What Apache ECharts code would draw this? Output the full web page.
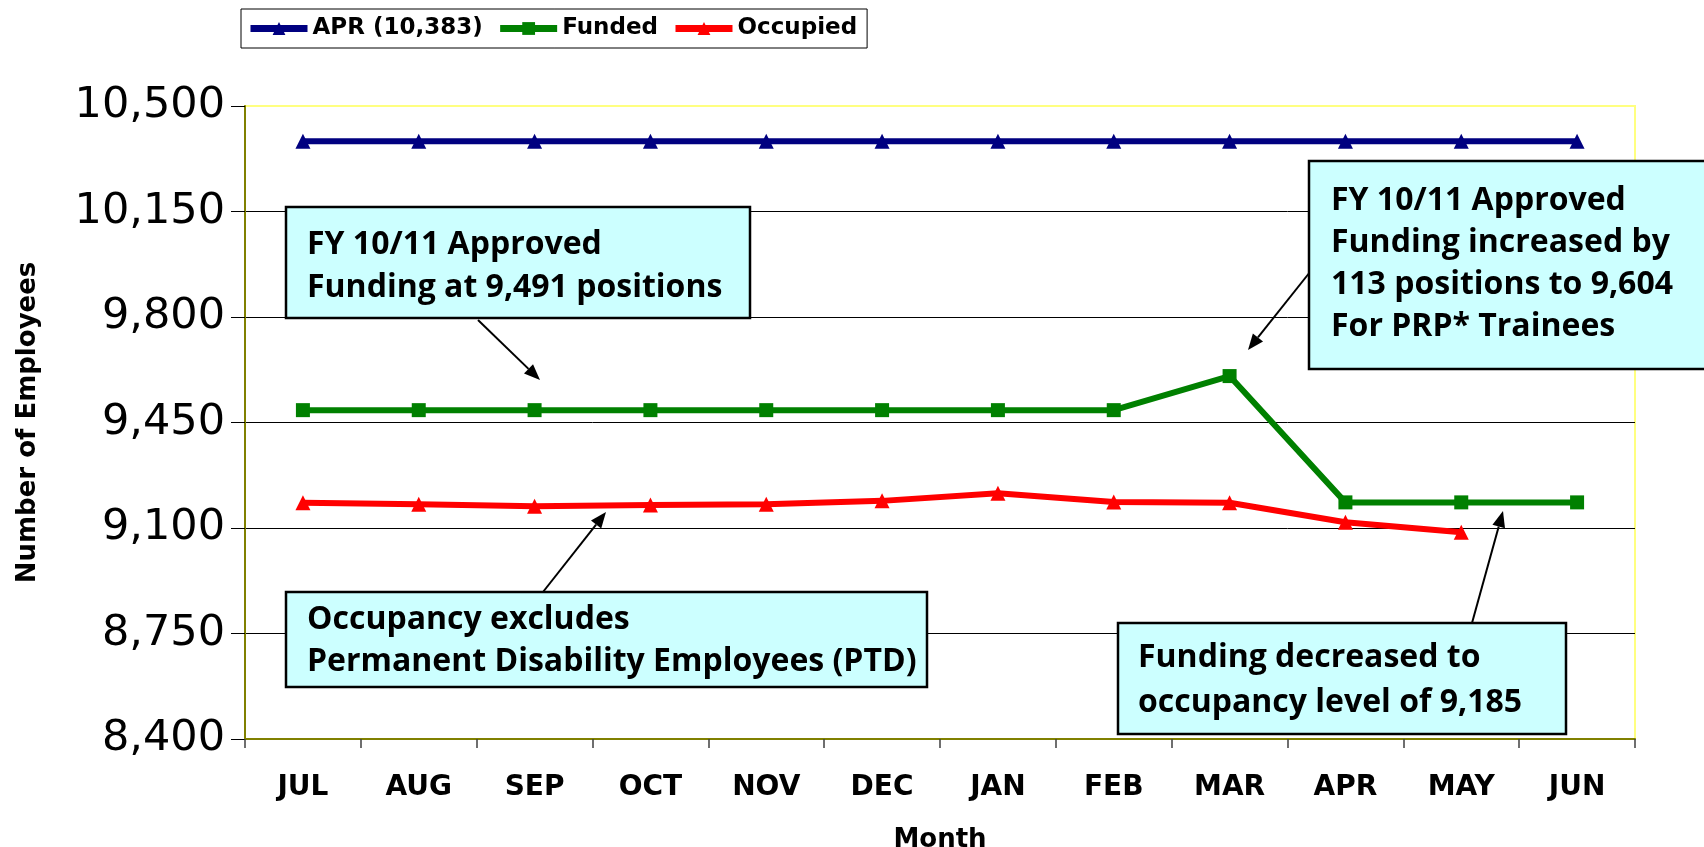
<!DOCTYPE html>
<html>
<head>
<meta charset="utf-8">
<script src="https://cdn.jsdelivr.net/npm/echarts@6/dist/echarts.min.js"></script>
<style>
  html, body { margin: 0; padding: 0; background: #fff; }
  #chart { width: 1704px; height: 847px; }
</style>
</head>
<body>
<div id="chart"></div>
<script>
// data
const months = ["JUL", "AUG", "SEP", "OCT", "NOV", "DEC", "JAN", "FEB", "MAR", "APR", "MAY", "JUN"];
const aprValues = [10383, 10383, 10383, 10383, 10383, 10383, 10383, 10383, 10383, 10383, 10383, 10383];
const fundedValues = [9491, 9491, 9491, 9491, 9491, 9491, 9491, 9491, 9604, 9185, 9185, 9185];
const occupiedValues = [9184, 9179, 9172, 9176, 9179, 9190, 9215, 9186, 9184, 9119, 9086, null];
const yMin = 8400;
const yMax = 10500;
const yStep = 350;

// callout boxes: c = centre of first text line, lh = line height
const notes = [
  { x: 286, y: 207, w: 464, h: 111, c: 245, lh: 43, tx: 307, lines: ["FY 10/11 Approved", "Funding at 9,491 positions"] },
  { x: 1309, y: 161, w: 420, h: 208, c: 201, lh: 42, tx: 1331, lines: ["FY 10/11 Approved", "Funding increased by", "113 positions to 9,604", "For PRP* Trainees"] },
  { x: 286, y: 592, w: 641, h: 95, c: 620, lh: 42, tx: 307, lines: ["Occupancy excludes", "Permanent Disability Employees (PTD)"] },
  { x: 1118, y: 623, w: 448, h: 111, c: 658, lh: 45, tx: 1138, lines: ["Funding decreased to", "occupancy level of 9,185"] }
];
const arrows = [
  [478, 320, 540, 380],
  [543, 592, 606, 512],
  [1310, 272, 1248, 350],
  [1472, 623, 1503, 511]
];

const chart = echarts.init(document.getElementById("chart"));

function noteElements(n) {
  return [
    {
      type: "rect",
      shape: { x: n.x, y: n.y, width: n.w, height: n.h },
      style: { fill: "#ccffff", stroke: "#000", lineWidth: 2.5 },
      z: 100
    },
    {
      type: "text",
      style: {
        x: n.tx,
        y: n.c - n.lh / 2,
        text: n.lines.join("\n"),
        font: "bold 32px 'Open Sans'",
        lineHeight: n.lh,
        fill: "#000",
        verticalAlign: "top"
      },
      z: 101
    }
  ];
}

function arrowElements(a) {
  const [x1, y1, x2, y2] = a;
  const len = Math.hypot(x2 - x1, y2 - y1);
  const ux = (x2 - x1) / len, uy = (y2 - y1) / len;
  const hl = 16, hw = 6.5;
  const bx = x2 - ux * hl, by = y2 - uy * hl;
  return [
    {
      type: "line",
      shape: { x1: x1, y1: y1, x2: bx, y2: by },
      style: { stroke: "#000", lineWidth: 2 },
      z: 99
    },
    {
      type: "polygon",
      shape: { points: [[x2, y2], [bx - uy * hw, by + ux * hw], [bx + uy * hw, by - ux * hw]] },
      style: { fill: "#000" },
      z: 99
    }
  ];
}

const graphics = [];
arrows.forEach(a => graphics.push(...arrowElements(a)));
notes.forEach(n => graphics.push(...noteElements(n)));

chart.setOption({
  animation: false,
  backgroundColor: "#fff",
  legend: {
    left: 241,
    top: 9,
    itemWidth: 57,
    itemHeight: 16,
    itemGap: 14,
    padding: [8, 10, 8, 6],
    borderColor: "#000",
    borderWidth: 1,
    lineStyle: { width: 7 },
    textStyle: { fontFamily: "DejaVu Sans", fontWeight: "bold", fontSize: 23, color: "#000" },
    data: ["APR (10,383)", "Funded", "Occupied"]
  },
  grid: {
    left: 245,
    right: 69,
    top: 106,
    bottom: 108,
    outerBoundsMode: "none",
    containLabel: false,
    show: true,
    borderColor: "#ffff80",
    borderWidth: 2
  },
  xAxis: {
    type: "category",
    data: months,
    boundaryGap: true,
    name: "Month",
    nameLocation: "middle",
    nameGap: 88,
    nameTextStyle: { fontFamily: "DejaVu Sans", fontWeight: "bold", fontSize: 26, color: "#000" },
    axisLine: { lineStyle: { color: "#808000", width: 2 } },
    axisTick: { show: true, length: 9, lineStyle: { color: "#404040", width: 1.5 } },
    axisLabel: { fontFamily: "DejaVu Sans", fontWeight: "bold", fontSize: 28, color: "#000", margin: 35 }
  },
  yAxis: {
    type: "value",
    min: yMin,
    max: yMax,
    interval: yStep,
    name: "Number of Employees",
    nameLocation: "middle",
    nameGap: 204,
    nameRotate: 90,
    nameTextStyle: { fontFamily: "DejaVu Sans", fontWeight: "bold", fontSize: 26, color: "#000" },
    axisLine: { show: true, lineStyle: { color: "#808000", width: 2 } },
    axisTick: { show: true, length: 14, lineStyle: { color: "#000", width: 1 } },
    axisLabel: {
      fontFamily: "DejaVu Sans",
      fontSize: 43,
      color: "#000",
      margin: 20,
      formatter: v => v.toLocaleString("en-US")
    },
    splitLine: { show: true, showMinLine: false, showMaxLine: false, lineStyle: { color: "#000", width: 1 } }
  },
  series: [
    {
      name: "APR (10,383)",
      type: "line",
      data: aprValues,
      symbol: "triangle",
      symbolSize: 15,
      color: "#000080",
      lineStyle: { color: "#000080", width: 6 }
    },
    {
      name: "Funded",
      type: "line",
      data: fundedValues,
      symbol: "rect",
      symbolSize: 14,
      color: "#008000",
      lineStyle: { color: "#008000", width: 6 }
    },
    {
      name: "Occupied",
      type: "line",
      data: occupiedValues,
      symbol: "triangle",
      symbolSize: 15,
      color: "#ff0000",
      lineStyle: { color: "#ff0000", width: 6 }
    }
  ],
  graphic: graphics
});
</script>
</body>
</html>
